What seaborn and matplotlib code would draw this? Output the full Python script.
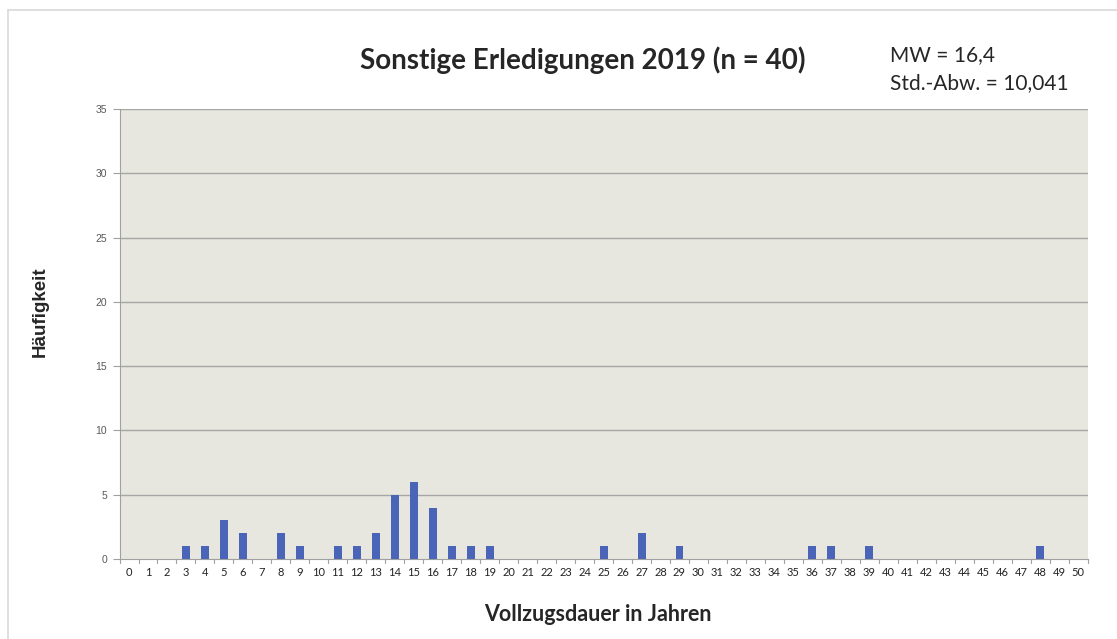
import matplotlib
matplotlib.use("Agg")
import matplotlib.pyplot as plt
from matplotlib.lines import Line2D
import seaborn as sns
import pandas as pd

# Häufigkeit je Vollzugsdauer (Jahre 0..50)
years = list(range(0, 51))
bar_years = [3, 4, 5, 6, 8, 9, 11, 12, 13, 14, 15, 16, 17, 18, 19, 25, 27, 29, 36, 37, 39, 48]
bar_counts = [1, 1, 3, 2, 2, 1, 1, 1, 2, 5, 6, 4, 1, 1, 1, 1, 2, 1, 1, 1, 1, 1]
y_ticks = [0, 5, 10, 15, 20, 25, 30, 35]

title = "Sonstige Erledigungen 2019 (n = 40)"
stats_lines = ["MW = 16,4", "Std.-Abw. = 10,041"]
xlabel = "Vollzugsdauer in Jahren"
ylabel = "Häufigkeit"

lookup = dict(zip(bar_years, bar_counts))
df = pd.DataFrame({"year": [str(y) for y in years], "count": [lookup.get(y, 0) for y in years]})

sns.set_theme(style="white")
plt.rcParams["font.family"] = ["Lato", "DejaVu Sans"]

fig = plt.figure(figsize=(11.17, 6.39), dpi=100)
ax = fig.add_axes([0.107, 0.1252, 0.8667, 0.704])
ax.set_facecolor("#e7e7df")

sns.barplot(data=df, x="year", y="count", order=[str(y) for y in years],
            color="#4a65b8", saturation=1, width=0.42, linewidth=0, ax=ax, zorder=3)

ax.set_ylim(0, 35)
ax.set_xlim(-0.5, 50.5)
ax.set_yticks(y_ticks)
ax.set_yticklabels([str(t) for t in y_ticks], fontsize=7.5, color="#595959",
                   family=["Liberation Sans", "DejaVu Sans"])
ax.tick_params(axis="x", labelsize=8, colors="#404040", length=0, pad=6)
ax.tick_params(axis="y", length=5, color="#a0a0a0", width=0.8, pad=4, left=True)
for lab in ax.get_xticklabels():
    lab.set_color("#222222")

for t in y_ticks[1:]:
    ax.axhline(t, color="#a6a6a6", lw=1.0, zorder=1)

# small category tick marks below the x axis
for i in range(len(years) + 1):
    ax.plot([i - 0.5, i - 0.5], [0, -0.35], color="#a0a0a0", lw=0.8, clip_on=False, zorder=2)

for side in ["top", "right"]:
    ax.spines[side].set_visible(False)
ax.spines["left"].set_color("#a0a0a0")
ax.spines["bottom"].set_color("#a0a0a0")
ax.spines["left"].set_linewidth(0.8)
ax.spines["bottom"].set_linewidth(0.8)

ax.set_xlabel("")
ax.set_ylabel("")

fig.text(0.522, 0.906, title, ha="center", va="center", fontsize=20, fontweight="bold")
fig.text(0.797, 0.914, stats_lines[0], ha="left", va="center", fontsize=15)
fig.text(0.797, 0.870, stats_lines[1], ha="left", va="center", fontsize=15)
fig.text(0.535, 0.039, xlabel, ha="center", va="center", fontsize=15.5, fontweight="bold")
fig.text(0.036, 0.513, ylabel, ha="center", va="center", rotation=90, fontsize=13.5,
         fontweight="bold", family=["Liberation Sans", "DejaVu Sans"])

# outer frame lines (left and top)
fig.add_artist(Line2D([0.0075, 0.0075], [0, 0.984], color="#d9d9d9", lw=1.2))
fig.add_artist(Line2D([0.0075, 1.0], [0.984, 0.984], color="#d9d9d9", lw=1.2))

fig.savefig("out.png", dpi=100)
